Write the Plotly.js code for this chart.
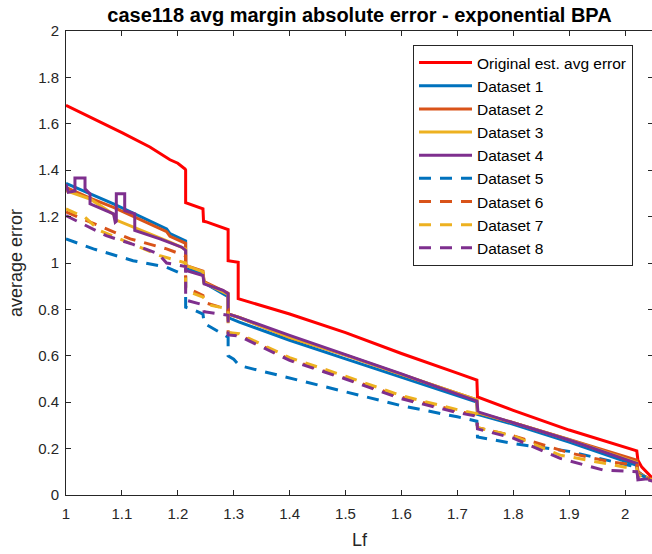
<!DOCTYPE html>
<html>
<head>
<meta charset="utf-8">
<script src="https://cdn.plot.ly/plotly-3.0.1.min.js"></script>
<style>
html,body{margin:0;padding:0;overflow:hidden;background:#fff;}
#chart{width:656px;height:554px;}
</style>
</head>
<body>
<div id="chart"></div>
<script>
// ---- data ----
var seriesNames = ["Original est. avg error","Dataset 1","Dataset 2","Dataset 3","Dataset 4","Dataset 5","Dataset 6","Dataset 7","Dataset 8"];

var origX = [1.000,1.050,1.100,1.150,1.186,1.200,1.206,1.213,1.214,1.214,1.245,1.246,1.250,1.290,1.290,1.308,1.308,1.400,1.500,1.600,1.700,1.735,1.736,1.800,1.900,2.021,2.023,2.030,2.050];
var origY = [1.680,1.622,1.562,1.500,1.445,1.430,1.420,1.405,1.400,1.260,1.234,1.180,1.178,1.144,1.010,1.003,0.846,0.780,0.700,0.610,0.525,0.495,0.423,0.365,0.280,0.190,0.150,0.120,0.070];

var d1X = [1.000,1.043,1.085,1.180,1.186,1.214,1.214,1.245,1.247,1.290,1.290,1.310,1.400,1.500,1.600,1.700,1.735,1.736,1.800,1.900,2.021,2.023,2.035,2.050];
var d1Y = [1.343,1.298,1.255,1.147,1.127,1.095,0.975,0.955,0.915,0.855,0.765,0.745,0.667,0.587,0.507,0.427,0.400,0.348,0.305,0.228,0.128,0.100,0.080,0.062];

var d2X = [1.000,1.043,1.085,1.180,1.186,1.214,1.214,1.245,1.247,1.290,1.290,1.310,1.400,1.500,1.600,1.700,1.735,1.736,1.800,1.900,2.021,2.023,2.035,2.050];
var d2Y = [1.326,1.280,1.240,1.135,1.115,1.085,0.990,0.965,0.920,0.870,0.780,0.765,0.680,0.603,0.520,0.438,0.410,0.355,0.312,0.240,0.150,0.100,0.080,0.062];

var d3X = [1.000,1.043,1.085,1.088,1.090,1.186,1.214,1.214,1.245,1.247,1.290,1.290,1.310,1.400,1.500,1.600,1.700,1.735,1.736,1.800,1.900,2.021,2.023,2.035,2.050];
var d3Y = [1.312,1.276,1.210,1.190,1.185,1.090,1.060,0.990,0.962,0.915,0.865,0.780,0.765,0.680,0.603,0.520,0.438,0.410,0.355,0.312,0.238,0.140,0.095,0.078,0.062];

var d4X = [1.000,1.004,1.016,1.016,1.034,1.034,1.043,1.043,1.085,1.088,1.090,1.090,1.105,1.105,1.123,1.123,1.168,1.207,1.214,1.214,1.245,1.247,1.281,1.290,1.290,1.308,1.400,1.500,1.600,1.700,1.735,1.737,1.800,1.900,2.021,2.023,2.040,2.050];
var d4Y = [1.340,1.305,1.310,1.366,1.366,1.320,1.298,1.255,1.212,1.176,1.180,1.298,1.298,1.226,1.212,1.140,1.104,1.068,1.054,0.968,0.946,0.910,0.882,0.867,0.781,0.767,0.688,0.606,0.522,0.435,0.405,0.358,0.312,0.237,0.136,0.065,0.070,0.062];

var d5X = [1.000,1.049,1.120,1.180,1.214,1.214,1.230,1.245,1.247,1.281,1.290,1.290,1.300,1.310,1.400,1.500,1.600,1.700,1.735,1.736,1.800,1.900,2.014,2.021,2.023,2.050];
var d5Y = [1.104,1.061,1.010,0.982,0.946,0.810,0.796,0.780,0.740,0.695,0.680,0.600,0.585,0.558,0.505,0.445,0.385,0.337,0.318,0.250,0.222,0.188,0.125,0.120,0.090,0.065];

var d6X = [1.000,1.079,1.115,1.180,1.214,1.214,1.245,1.247,1.290,1.290,1.310,1.400,1.500,1.600,1.700,1.735,1.736,1.800,1.900,1.973,2.021,2.023,2.050];
var d6Y = [1.220,1.140,1.104,1.061,1.030,0.895,0.860,0.830,0.800,0.700,0.690,0.585,0.505,0.422,0.362,0.344,0.290,0.255,0.182,0.143,0.129,0.090,0.065];

var d7X = [1.000,1.034,1.060,1.120,1.168,1.214,1.214,1.245,1.260,1.290,1.290,1.310,1.400,1.500,1.600,1.700,1.735,1.736,1.800,1.884,2.000,2.021,2.023,2.050];
var d7Y = [1.233,1.197,1.140,1.080,1.032,1.000,0.882,0.853,0.817,0.803,0.700,0.695,0.592,0.512,0.428,0.368,0.350,0.290,0.255,0.172,0.120,0.115,0.085,0.065];

var d8X = [1.000,1.072,1.120,1.165,1.180,1.214,1.214,1.245,1.247,1.290,1.290,1.310,1.400,1.500,1.600,1.700,1.735,1.736,1.800,1.884,1.960,2.021,2.023,2.050];
var d8Y = [1.204,1.118,1.080,1.040,1.000,0.985,0.840,0.820,0.790,0.775,0.690,0.685,0.580,0.500,0.415,0.355,0.340,0.285,0.245,0.158,0.108,0.100,0.075,0.060];

var xTicks = [1,1.1,1.2,1.3,1.4,1.5,1.6,1.7,1.8,1.9,2];
var xTickText = ["1","1.1","1.2","1.3","1.4","1.5","1.6","1.7","1.8","1.9","2"];
var yTicks = [0,0.2,0.4,0.6,0.8,1,1.2,1.4,1.6,1.8,2];
var yTickText = ["0","0.2","0.4","0.6","0.8","1","1.2","1.4","1.6","1.8","2"];

// ---- styling ----
var colors = ["#FF0000","#0072BD","#D95319","#EDB120","#7E2F8E","#0072BD","#D95319","#EDB120","#7E2F8E"];
var dashes = ["solid","solid","solid","solid","solid","12px,9px","12px,9px","12px,9px","12px,9px"];
var xs = [origX,d1X,d2X,d3X,d4X,d5X,d6X,d7X,d8X];
var ys = [origY,d1Y,d2Y,d3Y,d4Y,d5Y,d6Y,d7Y,d8Y];

var traces = [];
for (var i = 0; i < seriesNames.length; i++) {
  traces.push({
    x: xs[i], y: ys[i], name: seriesNames[i], type: "scatter", mode: "lines",
    line: {color: colors[i], width: 3, dash: dashes[i], shape: "linear"}
  });
}

var font = "Liberation Sans, Arial, Helvetica, sans-serif";
var axCol = "#262626";
var layout = {
  width: 656, height: 554,
  margin: {l: 66, r: 3, t: 31, b: 59},
  paper_bgcolor: "#ffffff", plot_bgcolor: "#ffffff",
  font: {family: font, color: axCol},
  title: {text: "<b>case118 avg margin absolute error - exponential BPA</b>",
          font: {family: font, size: 20, color: "#000"},
          x: 0.5, xref: "paper", xanchor: "center", y: 1 - 15/554, yref: "container", yanchor: "middle"},
  xaxis: {range: [1, 2.05], tickvals: xTicks, ticktext: xTickText, ticks: "inside", ticklen: 5,
          tickcolor: axCol, showline: true, linecolor: axCol, linewidth: 1, mirror: "ticks",
          showgrid: false, zeroline: false, tickfont: {size: 15, color: axCol}, ticklabelstandoff: 5,
          title: {text: "Lf", font: {size: 18, color: axCol}, standoff: 12}},
  yaxis: {range: [0, 2], tickvals: yTicks, ticktext: yTickText, ticks: "inside", ticklen: 5,
          tickcolor: axCol, showline: true, linecolor: axCol, linewidth: 1, mirror: "ticks",
          showgrid: false, zeroline: false, tickfont: {size: 15, color: axCol}, ticklabelstandoff: 3,
          title: {text: "average error", font: {size: 18, color: axCol}, standoff: 10}},
  legend: {x: (413-66)/587, y: (495-45)/464, xanchor: "left", yanchor: "top",
           bgcolor: "#ffffff", bordercolor: axCol, borderwidth: 1,
           font: {size: 15.5, color: "#000", family: font}, itemwidth: 53, traceorder: "normal"},
  showlegend: true
};

Plotly.newPlot("chart", traces, layout, {displayModeBar: false, staticPlot: true});
</script>
</body>
</html>
